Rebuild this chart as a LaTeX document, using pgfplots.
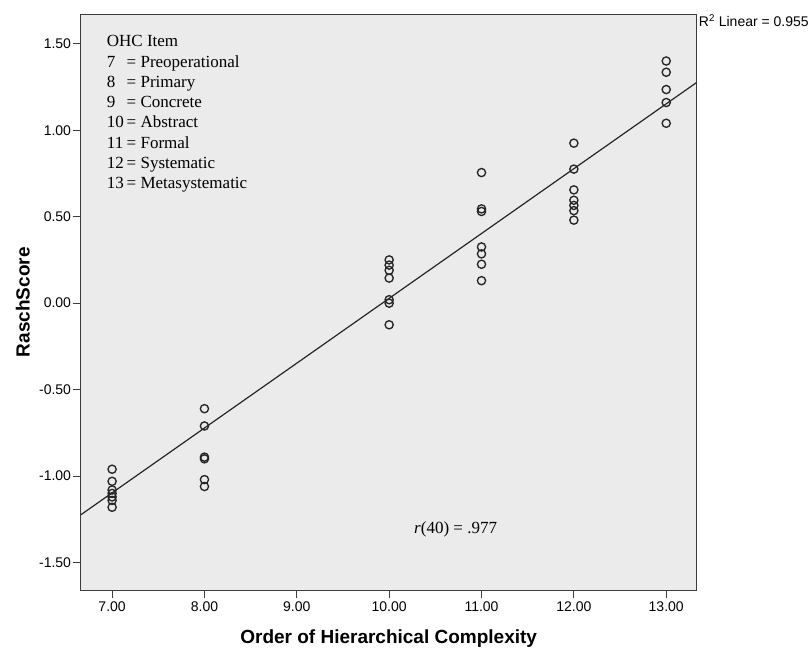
\documentclass[border=0pt]{standalone}
\usepackage{fontspec}
\setmainfont{Liberation Serif}
\setsansfont{Liberation Sans}
\usepackage{pgfplots}
\usepackage{pgfplotstable}
\pgfplotsset{compat=1.18}
\definecolor{bgfill}{RGB}{235,235,235}
\definecolor{framec}{RGB}{60,60,60}
\pgfplotstableread{
x y
7 -0.96
7 -1.03
7 -1.08
7 -1.10
7 -1.12
7 -1.14
7 -1.18
8 -0.61
8 -0.71
8 -0.89
8 -0.90
8 -1.02
8 -1.06
10 0.25
10 0.22
10 0.19
10 0.145
10 0.02
10 0.00
10 -0.125
11 0.755
11 0.545
11 0.53
11 0.325
11 0.285
11 0.225
11 0.13
12 0.925
12 0.775
12 0.655
12 0.595
12 0.565
12 0.535
12 0.48
13 1.40
13 1.335
13 1.235
13 1.16
13 1.04
}\datatable
\begin{document}
\begin{tikzpicture}
\begin{axis}[
  name=ax, at={(0,0)}, anchor=south west,
  scale only axis, width=616pt, height=576pt,
  xmin=6.66, xmax=13.33, ymin=-1.66, ymax=1.67,
  axis background/.style={fill=bgfill},
  axis line style={framec, line width=1.3pt},
  tick style={framec, line width=1.1pt},
  tick align=outside, major tick length=8pt,
  xtick={7,8,9,10,11,12,13}, ytick={-1.5,-1,-0.5,0,0.5,1,1.5},
  xtick pos=bottom, ytick pos=left,
  xticklabel style={font=\sffamily\fontsize{14}{14}\selectfont, /pgf/number format/.cd, fixed, fixed zerofill, precision=2, assume math mode=true},
  yticklabel style={font=\sffamily\fontsize{14}{14}\selectfont, inner sep=1.5pt, /pgf/number format/.cd, fixed, fixed zerofill, precision=2, assume math mode=true},
  xlabel={Order of Hierarchical Complexity},
  ylabel={RaschScore},
  label style={font=\sffamily\bfseries\fontsize{19}{19}\selectfont},
  xlabel style={at={(axis description cs:0.5,0)}, anchor=center, yshift=-48pt},
  ylabel style={at={(axis description cs:-0.094,0.5)}, anchor=center, rotate=0},
  clip=true,
]
\addplot[black!85, line width=1.2pt, no marks] coordinates {(6.66,-1.224) (13.33,1.276)};
\addplot[only marks, mark=o, mark size=4.1pt, mark options={black!85, line width=1.35pt}] table[x=x,y=y] {\datatable};
\node[anchor=north west, inner sep=0pt, xshift=26pt, yshift=-18pt, font=\fontsize{17}{20.3}\selectfont] at (rel axis cs:0,1)
 {\begin{tabular}{@{}l@{\,}l@{}}
 \multicolumn{2}{@{}l@{}}{OHC Item}\\
 7 & = Preoperational\\
 8 & = Primary\\
 9 & = Concrete\\
 10 & = Abstract\\
 11 & = Formal\\
 12 & = Systematic\\
 13 & = Metasystematic
 \end{tabular}};
\node[font=\fontsize{17}{17}\selectfont] at (axis cs:10.72,-1.31) {\textit{r}(40) = .977};
\end{axis}
\node[anchor=base west, inner sep=0pt, font=\sffamily\fontsize{14}{14}\selectfont] at ([xshift=2pt,yshift=-12.4pt]ax.north east) {R\textsuperscript{2} Linear = 0.955};
\pgfresetboundingbox
\path[use as bounding box] (-80.7pt,-58.7pt) rectangle (728.3pt,590.3pt);
\end{tikzpicture}
\end{document}
